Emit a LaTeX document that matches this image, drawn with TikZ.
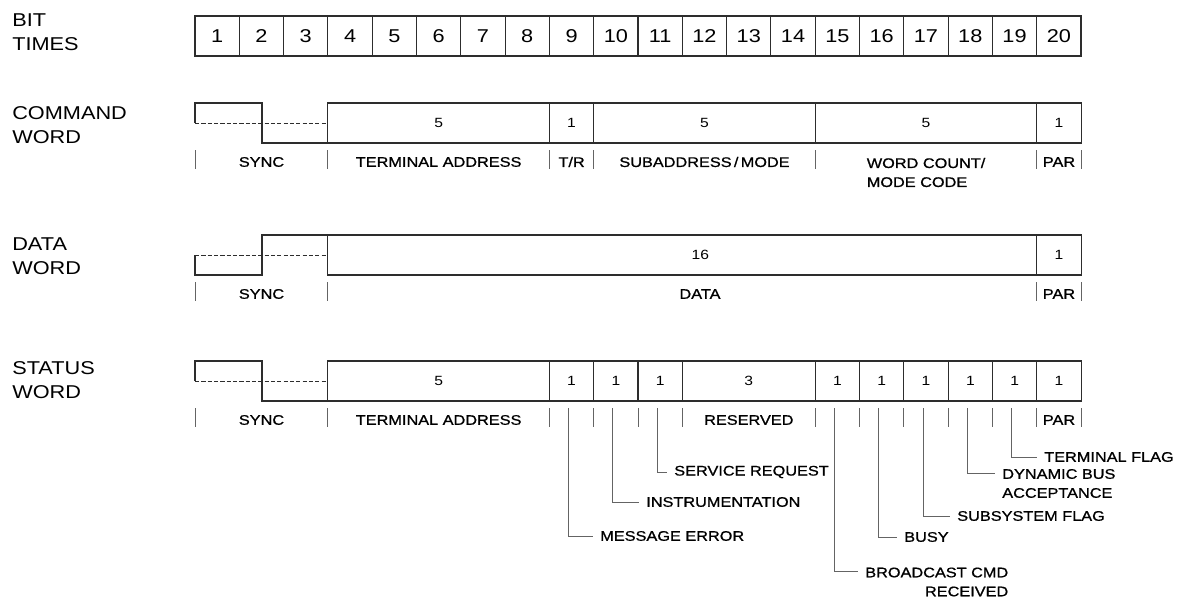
\documentclass[tikz,border=0pt]{standalone}
\usepackage{fontspec}
\setmainfont{Liberation Sans}[FakeStretch=1.17]
\newfontfamily\labelfont{Liberation Sans}[FakeStretch=1.17,FakeBold=0.9]
\usepackage{tikz}
\usetikzlibrary{
  calc,
  positioning
}
\definecolor{wireink}{RGB}{45,45,45}
\definecolor{tickgray}{RGB}{100,100,100}
\newcommand{\bw}{1.1075cm}
\tikzset{
  bigtext/.style={font=\fontsize{13.2}{17}\selectfont,align=left,
    inner sep=0pt,anchor=west},
  bitcell/.style={draw=wireink,line width=0.8pt,minimum width=\bw,
    minimum height=1cm,inner sep=0pt,outer sep=0pt,
    font=\fontsize{13.2}{16}\selectfont},
  field/.style={draw=wireink,line width=0.8pt,minimum height=1cm,
    inner sep=0pt,outer sep=0pt,font=\fontsize{9.5}{12}\selectfont},
  fieldlab/.style={font=\labelfont\fontsize{9.9}{13.5}\selectfont,
    inner sep=0pt,align=center},
  leadlab/.style={font=\labelfont\fontsize{9.9}{13.5}\selectfont,
    inner xsep=0.175cm,inner ysep=0pt,anchor=west},
  wave/.style={draw=wireink,line width=0.8pt},
  midline/.style={draw=wireink,line width=0.6pt,dash pattern=on 3pt off 1.5pt},
  tick/.style={draw=tickgray,line width=0.7pt},
  leader/.style={draw=tickgray,line width=0.7pt}
}

\begin{document}
\begin{tikzpicture}[x=0.025cm,y=-0.025cm]
  \useasboundingbox (0,0) rectangle (1185,598);

  % bit times
  \node[bigtext] (tbit) at (12,32.5) {BIT\\TIMES};
  \foreach \i in {1,...,20}
    \node[bitcell] (b\i) at ({195+44.3*(\i-0.5)},36) {\i};

  % command word
  \node[bigtext] (tcmd) at (12,125) {COMMAND\\WORD};
  \node[field,minimum width=5*\bw] (cta) at ({195+44.3*5.5},123) {5};
  \node[field,minimum width=\bw,right=0pt of cta] (ctr) {1};
  \node[field,minimum width=5*\bw,right=0pt of ctr] (csa) {5};
  \node[field,minimum width=5*\bw,right=0pt of csa] (cwc) {5};
  \node[field,minimum width=\bw,right=0pt of cwc] (cpar) {1};
  \draw[wave] (195,123) |- (262,103) |- (cta.south west);
  \draw[midline] (195,123) -- (cta.west);
  \foreach \k in {0,3,8,9,14,19,20}
    \draw[tick] ({195+44.3*\k},150) -- ++(0,19);
  \node[fieldlab] (lcsync) at (261.5,162) {SYNC};
  \node[fieldlab] (lcta) at (cta |- 0,162) {TERMINAL ADDRESS};
  \node[fieldlab] (lctr) at (ctr |- 0,162) {T/R};
  \node[fieldlab] (lcsa) at (csa |- 0,162) {SUBADDRESS\,/\,MODE};
  \node[fieldlab,align=left] (lcwc) at (cwc |- 0,172.5) {WORD COUNT/\\MODE CODE};
  \node[fieldlab] (lcpar) at (cpar |- 0,162) {PAR};

  % data word
  \node[bigtext] (tdat) at (12,256.5) {DATA\\WORD};
  \node[field,minimum width=16*\bw] (dda) at ({195+44.3*11},255) {\hspace{0.9cm}16};
  \node[field,minimum width=\bw,right=0pt of dda] (dpar) {1};
  \draw[wave] (195,255) |- (262,275) |- (dda.north west);
  \draw[midline] (195,255) -- (dda.west);
  \foreach \k in {0,3,19,20}
    \draw[tick] ({195+44.3*\k},282) -- ++(0,19);
  \node[fieldlab] (ldsync) at (261.5,294) {SYNC};
  \node[fieldlab] (ldda) at (700,294) {DATA};
  \node[fieldlab] (ldpar) at (dpar |- 0,294) {PAR};

  % status word
  \node[bigtext] (tsta) at (12,380) {STATUS\\WORD};
  \node[field,minimum width=5*\bw] (sta) at ({195+44.3*5.5},381) {5};
  \node[field,minimum width=\bw,right=0pt of sta] (sme) {1};
  \node[field,minimum width=\bw,right=0pt of sme] (sin) {1};
  \node[field,minimum width=\bw,right=0pt of sin] (ssr) {1};
  \node[field,minimum width=3*\bw,right=0pt of ssr] (sres) {3};
  \foreach \n [remember=\n as \p (initially sres)] in {sbc,sbu,ssf,sdb,stf,spar}
    \node[field,minimum width=\bw,right=0pt of \p] (\n) {1};
  \draw[wave] (195,381) |- (262,361) |- (sta.south west);
  \draw[midline] (195,381) -- (sta.west);
  \foreach \k in {0,3,8,9,10,11,14,15,16,17,18,19,20}
    \draw[tick] ({195+44.3*\k},408) -- ++(0,19);
  \node[fieldlab] (lssync) at (261.5,420) {SYNC};
  \node[fieldlab] (lsta) at (sta |- 0,420) {TERMINAL ADDRESS};
  \node[fieldlab] (lsres) at (sres |- 0,420) {RESERVED};
  \node[fieldlab] (lspar) at (spar |- 0,420) {PAR};

  % status bit names
  \node[leadlab] (lme) at (593,536) {MESSAGE ERROR};
  \node[leadlab] (lin) at (639,502) {INSTRUMENTATION};
  \node[leadlab] (lsr) at (667,472) {SERVICE REQUEST};
  \node[leadlab,align=right] (lbc) at (858,582) {BROADCAST CMD\\RECEIVED};
  \node[leadlab] (lbu) at (897,537) {BUSY};
  \node[leadlab] (lsf) at (950,516) {SUBSYSTEM FLAG};
  \node[leadlab,align=left] (ldb) at (995,483.5) {DYNAMIC BUS\\ACCEPTANCE};
  \node[leadlab] (ltf) at (1037,457) {TERMINAL FLAG};

  \draw[leader] ($(sme.south)+(-3,7)$) |- (lme.west);
  \draw[leader] ($(sin.south)+(-3,7)$) |- (lin.west);
  \draw[leader] ($(ssr.south)+(-3,7)$) |- (lsr.west);
  \draw[leader] ($(sbc.south)+(-3,7)$) |- ($(lbc.west)+(0,-11)$);
  \draw[leader] ($(sbu.south)+(-3,7)$) |- (lbu.west);
  \draw[leader] ($(ssf.south)+(-3,7)$) |- (lsf.west);
  \draw[leader] ($(sdb.south)+(-3,7)$) |- ($(ldb.west)+(0,-10)$);
  \draw[leader] ($(stf.south)+(-3,7)$) |- (ltf.west);
\end{tikzpicture}
\end{document}
